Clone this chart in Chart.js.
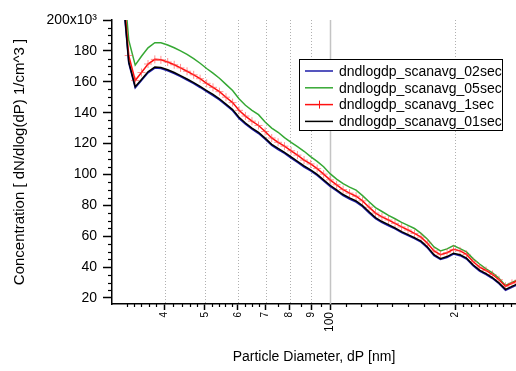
<!DOCTYPE html>
<html>
<head>
<meta charset="utf-8">
<script src="https://cdn.jsdelivr.net/npm/chart.js@4.4.0/dist/chart.umd.min.js"></script>
<style>
  html, body { margin: 0; padding: 0; background: #fff; }
  #wrap { width: 516px; height: 371px; position: relative; }
</style>
</head>
<body>
<div id="wrap"><canvas id="psd"></canvas></div>
<script>
// particle diameters, nm
var diameters = [29.4, 30.5, 31.6, 32.8, 34.0, 35.2, 36.5, 37.9, 39.2, 40.7, 42.2, 43.7, 45.3, 47.0, 48.7, 50.5,
  52.3, 54.2, 56.2, 58.3, 60.4, 62.6, 64.9, 67.3, 69.8, 72.4, 75.0, 77.7, 80.6, 83.5, 86.6, 89.8, 93.1, 96.5,
  100.0, 103.7, 107.5, 111.4, 115.5, 119.7, 124.1, 128.6, 133.3, 138.2, 143.3, 148.6, 154.0, 159.6, 165.5,
  171.5, 177.8, 184.3, 191.1, 198.1, 205.4, 212.9, 220.7, 228.8, 237.2, 245.8, 254.8, 264.2, 273.8, 283.9];

// dN/dlogdP in units of 10^3 / cm^3
var scan02 = [328, 283, 222, 172, 156.0, 160.8, 165.8, 168.9, 168.6, 167.1, 165.3, 163.3, 161.1, 158.8, 156.3, 153.6,
  151.1, 148.3, 144.8, 141.3, 136.3, 132.6, 129.3, 126.5, 122.8, 118.8, 116.1, 113.6, 110.6, 107.8, 104.8, 102.3, 99.3, 95.8,
  92.3, 89.3, 86.3, 84.1, 82.1, 79.1, 75.1, 71.3, 68.8, 66.8, 64.7, 62.4, 60.4, 58.4, 56.2,
  52.4, 47.4, 44.9, 46.2, 48.4, 47.4, 45.2, 40.9, 37.4, 35.2, 32.6, 29.2, 25.0, 26.9, 28.9];
var scan05 = [345, 300, 238, 187, 170.8, 176.5, 182.0, 185.3, 185.2, 183.8, 182.0, 180.0, 177.8, 175.0, 172.0, 168.6,
  165.6, 162.3, 158.3, 154.3, 149.0, 144.8, 141.5, 138.7, 134.0, 130.0, 127.3, 123.8, 120.8, 118.0, 115.0, 111.5, 108.5, 105.0,
  100.5, 97.0, 94.0, 91.8, 89.8, 86.3, 82.3, 78.5, 76.0, 73.5, 71.3, 69.0, 67.0, 65.0, 61.8,
  58.0, 53.0, 50.5, 51.8, 54.0, 52.0, 49.8, 45.5, 42.0, 38.8, 36.2, 32.8, 28.1, 30.0, 32.0];
var scan1 = [336, 290, 230, 177, 160.8, 166.0, 171.5, 174.5, 174.2, 172.8, 171.0, 169.0, 166.8, 164.5, 162.0, 159.0,
  156.4, 153.6, 150.0, 146.5, 141.5, 137.8, 134.5, 131.7, 127.8, 123.6, 120.8, 118.3, 115.3, 112.5, 109.3, 106.8, 103.8, 100.2,
  96.5, 93.3, 90.2, 87.9, 85.9, 82.9, 78.8, 75.0, 72.5, 70.5, 68.3, 66.0, 64.0, 61.8, 59.4,
  55.5, 50.5, 48.0, 49.3, 51.5, 50.5, 48.2, 43.6, 40.0, 37.8, 35.2, 31.8, 27.6, 29.5, 31.5];
var scan01 = [330, 285, 224, 173, 156.8, 161.5, 166.5, 169.5, 169.2, 167.8, 166.0, 164.0, 161.8, 159.5, 157.0, 154.3,
  151.8, 149.0, 145.5, 142.0, 137.0, 133.3, 130.0, 127.2, 123.5, 119.5, 116.8, 114.3, 111.3, 108.5, 105.5, 103.0, 100.0, 96.5,
  93.0, 90.0, 87.0, 84.8, 82.8, 79.8, 75.8, 72.0, 69.5, 67.5, 65.3, 63.0, 61.0, 59.0, 56.8,
  53.0, 48.0, 45.5, 46.8, 49.0, 48.0, 45.8, 41.5, 38.0, 35.8, 33.2, 29.8, 25.6, 27.5, 29.5];

var seriesNames = ['dndlogdp_scanavg_02sec', 'dndlogdp_scanavg_05sec', 'dndlogdp_scanavg_1sec', 'dndlogdp_scanavg_01sec'];
var xTicks = [40, 50, 60, 70, 80, 90, 100, 200];
var xMinor = [32.4, 33.8, 35.2, 36.7, 38.2, 42, 44, 46, 48, 52, 54, 56, 58, 62.5, 65, 67.5, 75, 85, 95,
  109, 119, 130, 141, 154, 168, 183, 209, 218, 228, 238, 249, 260, 272];
var yTicks = [20, 40, 60, 80, 100, 120, 140, 160, 180, 200];
var yMinor = [25, 30, 35, 45, 50, 55, 65, 70, 75, 85, 90, 95, 105, 110, 115, 125, 130, 135,
  145, 150, 155, 165, 170, 175, 185, 190, 195];

var FONT = '"Liberation Sans", Arial, Helvetica, sans-serif';

function pts(vals) {
  return diameters.map(function (d, i) { return { x: d, y: vals[i] }; });
}

// dotted vertical grid, solid at 100
var gridPlugin = {
  id: 'igorGrid',
  beforeDatasetsDraw: function (chart) {
    var ctx = chart.ctx, a = chart.chartArea, xs = chart.scales.x;
    ctx.save();
    xTicks.forEach(function (v) {
      var px = Math.round(xs.getPixelForValue(v)) + 0.5;
      ctx.beginPath();
      if (v === 100) {
        ctx.setLineDash([]);
        ctx.strokeStyle = '#c4c4c4';
        ctx.lineWidth = 1.5;
      } else {
        ctx.setLineDash([1, 2]);
        ctx.strokeStyle = '#b0b0b0';
        ctx.lineWidth = 1;
      }
      ctx.moveTo(px, a.top);
      ctx.lineTo(px, a.bottom);
      ctx.stroke();
    });
    ctx.restore();
  },
  afterDraw: function (chart) {
    var ctx = chart.ctx, a = chart.chartArea, xs = chart.scales.x, ys = chart.scales.y;
    ctx.save();
    ctx.strokeStyle = '#000';
    ctx.lineWidth = 1.2;
    yMinor.forEach(function (v) {
      var py = Math.round(ys.getPixelForValue(v)) + 0.5;
      ctx.beginPath();
      ctx.moveTo(a.left, py);
      ctx.lineTo(a.left - 4, py);
      ctx.stroke();
    });
    xMinor.forEach(function (v) {
      var px = Math.round(xs.getPixelForValue(v)) + 0.5;
      ctx.beginPath();
      ctx.moveTo(px, a.bottom);
      ctx.lineTo(px, a.bottom + 3);
      ctx.stroke();
    });

    // legend box
    var bx = 299, by = 59, bw = 203, bh = 71;
    ctx.fillStyle = '#fff';
    ctx.fillRect(bx, by, bw, bh);
    ctx.lineWidth = 1;
    ctx.strokeStyle = '#000';
    ctx.strokeRect(bx + 0.5, by + 0.5, bw, bh);
    ctx.font = '14px ' + FONT;
    ctx.textBaseline = 'middle';
    ctx.textAlign = 'left';
    var legendSets = [0, 1, 2, 3];
    legendSets.forEach(function (k, i) {
      var ds = chart.data.datasets[k];
      var cy = by + 12 + i * 16.8;
      ctx.strokeStyle = ds.borderColor;
      ctx.lineWidth = 1.5;
      ctx.beginPath();
      ctx.moveTo(305, cy);
      ctx.lineTo(333, cy);
      ctx.stroke();
      if (ds.pointRadius > 0) {
        ctx.lineWidth = 1;
        ctx.strokeStyle = ds.borderColor;
        ctx.beginPath();
        ctx.moveTo(319.5, cy - 4);
        ctx.lineTo(319.5, cy + 4);
        ctx.stroke();
      }
      ctx.fillStyle = '#000';
      ctx.fillText(ds.label, 339, cy + 1);
    });
    ctx.restore();
  }
};

var ctx = document.getElementById('psd').getContext('2d');
var psdChart = new Chart(ctx, {
  type: 'line',
  data: {
    datasets: [{
      label: seriesNames[0],
      data: pts(scan02),
      borderColor: '#1c1ca8',
      borderWidth: 1.5,
      pointRadius: 0,
      order: 3
    }, {
      label: seriesNames[1],
      data: pts(scan05),
      borderColor: '#35a833',
      borderWidth: 1.5,
      pointRadius: 0,
      order: 2
    }, {
      label: seriesNames[2],
      data: pts(scan1),
      borderColor: '#ff1010',
      borderWidth: 1.5,
      pointStyle: 'cross',
      pointRadius: 4,
      pointBorderColor: 'rgba(255, 70, 70, 0.6)',
      pointBorderWidth: 1,
      order: 1
    }, {
      label: seriesNames[3],
      data: pts(scan01),
      borderColor: '#000000',
      borderWidth: 1.5,
      pointRadius: 0,
      order: 0
    }]
  },
  options: {
    responsive: true,
    maintainAspectRatio: false,
    animation: false,
    layout: { autoPadding: false, padding: { top: 20, right: 0, bottom: 0, left: 0 } },
    plugins: {
      legend: { display: false },
      tooltip: { enabled: false }
    },
    elements: { line: { tension: 0 } },
    scales: {
      x: {
        type: 'logarithmic',
        min: 29.9,
        max: 280,
        afterBuildTicks: function (s) { s.ticks = xTicks.map(function (v) { return { value: v }; }); },
        afterFit: function (s) { s.height = 67; s.paddingRight = 0; s.paddingLeft = 0; },
        grid: { display: true, drawOnChartArea: false, drawTicks: true, tickLength: 6, tickColor: '#000', tickWidth: 1.5 },
        border: { display: true, color: '#000', width: 1.5 },
        ticks: {
          autoSkip: false,
          minRotation: 90,
          maxRotation: 90,
          padding: 2,
          color: '#000',
          callback: function (v) { return v === 100 ? '100' : (v === 200 ? '2' : String(v / 10)); },
          font: function (c) {
            var big = c.tick && c.tick.value === 100;
            return { size: big ? 12 : 10, family: FONT };
          }
        },
        title: {
          display: true,
          text: 'Particle Diameter, dP [nm]',
          color: '#000',
          font: { size: 14, family: FONT },
          padding: { top: 0, bottom: 5 }
        }
      },
      y: {
        type: 'linear',
        min: 16.1,
        max: 200,
        afterBuildTicks: function (s) { s.ticks = yTicks.map(function (v) { return { value: v }; }); },
        afterFit: function (s) { s.width = 112; s.paddingTop = 0; s.paddingBottom = 0; },
        grid: { display: true, drawOnChartArea: false, drawTicks: true, tickLength: 9, tickColor: '#000', tickWidth: 1.5 },
        border: { display: true, color: '#000', width: 1.5 },
        ticks: {
          padding: 6,
          color: '#000',
          font: { size: 14, family: FONT },
          callback: function (v) { return v === 200 ? '200x10\u00b3' : String(v); }
        },
        title: {
          display: true,
          text: 'Concentration [ dN/dlog(dP) 1/cm^3 ]',
          color: '#000',
          font: { size: 15, family: FONT },
          padding: { top: 11, bottom: 0 }
        }
      }
    }
  },
  plugins: [gridPlugin]
});
</script>
</body>
</html>
